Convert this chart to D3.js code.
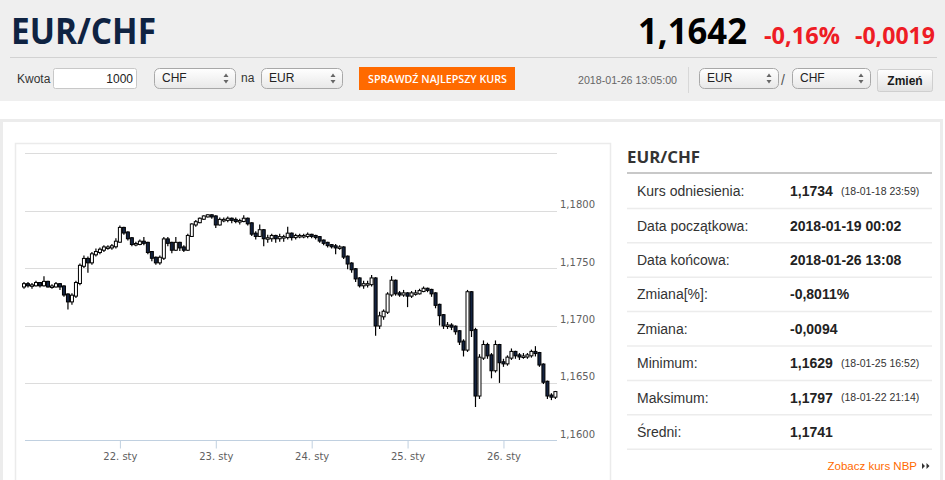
<!DOCTYPE html>
<html lang="pl">
<head>
<meta charset="utf-8">
<style>
html, body {
    margin: 0;
    padding: 0;
    width: 945px;
    height: 480px;
    overflow: hidden;
    background: #fff;
}
svg text {
    font-family: "Liberation Sans", Arial, sans-serif;
}
.grid line {
    stroke: #dcdcdc;
    stroke-width: 1;
}
.tickLabel {
    font-family: "DejaVu Sans", Verdana, sans-serif !important;
    font-size: 10px;
    fill: #606060;
}
</style>
</head>
<body>
<svg id="stage" width="945" height="480"></svg>

<script src="https://cdn.jsdelivr.net/npm/d3@7/dist/d3.min.js"></script>
<script>

// hourly candles, index = trading hour since 2018-01-19 00:00 (weekend skipped)
var opens = [1.1734,1.1736,1.1735,1.1735,1.1737,1.1735,1.1738,1.1734,1.1734,1.1736,
    1.1734,1.1727,1.1721,1.1726,1.1737,1.1752,1.1758,1.1755,1.1762,1.1764,
    1.1766,1.1768,1.1768,1.1769,1.1773,1.1785,1.1781,1.1776,1.1771,1.1771,
    1.1773,1.1772,1.1764,1.1759,1.1755,1.1759,1.1775,1.1772,1.1766,1.1772,
    1.1768,1.1766,1.1778,1.1788,1.1790,1.1793,1.1795,1.1796,1.1795,1.1788,
    1.1792,1.1792,1.1793,1.1792,1.1791,1.1791,1.1793,1.1789,1.1780,1.1778,
    1.1783,1.1776,1.1776,1.1778,1.1776,1.1777,1.1777,1.1780,1.1777,1.1778,
    1.1778,1.1778,1.1779,1.1778,1.1777,1.1774,1.1772,1.1770,1.1769,1.1768,
    1.1768,1.1760,1.1754,1.1749,1.1741,1.1735,1.1736,1.1736,1.1741,1.1700,
    1.1708,1.1712,1.1727,1.1739,1.1728,1.1727,1.1728,1.1726,1.1728,1.1728,
    1.1730,1.1732,1.1731,1.1728,1.1718,1.1709,1.1700,1.1700,1.1699,1.1695,
    1.1686,1.1679,1.1729,1.1696,1.1639,1.1672,1.1683,1.1674,1.1661,1.1683,
    1.1668,1.1667,1.1672,1.1677,1.1674,1.1673,1.1673,1.1674,1.1677,1.1676,
    1.1666,1.1651,1.1639,1.1638];

var highs = [1.1738,1.1738,1.1737,1.1739,1.1738,1.1743,1.1739,1.1736,1.1738,1.1737,
    1.1735,1.1728,1.1728,1.1739,1.1754,1.1761,1.1760,1.1764,1.1767,1.1768,
    1.1770,1.1770,1.1771,1.1776,1.1787,1.1786,1.1782,1.1777,1.1773,1.1775,
    1.1777,1.1773,1.1765,1.1760,1.1761,1.1777,1.1777,1.1773,1.1777,1.1773,
    1.1770,1.1780,1.1789,1.1792,1.1794,1.1796,1.1797,1.1797,1.1796,1.1794,
    1.1794,1.1795,1.1794,1.1794,1.1793,1.1796,1.1794,1.1790,1.1782,1.1788,
    1.1784,1.1779,1.1780,1.1779,1.1780,1.1779,1.1786,1.1781,1.1780,1.1780,
    1.1780,1.1781,1.1780,1.1779,1.1778,1.1775,1.1773,1.1771,1.1771,1.1770,
    1.1769,1.1761,1.1755,1.1750,1.1742,1.1739,1.1739,1.1744,1.1742,1.1712,
    1.1714,1.1729,1.1743,1.1740,1.1730,1.1731,1.1729,1.1730,1.1731,1.1732,
    1.1734,1.1733,1.1732,1.1729,1.1719,1.1710,1.1703,1.1702,1.1700,1.1696,
    1.1688,1.1731,1.1730,1.1698,1.1675,1.1687,1.1685,1.1676,1.1687,1.1684,
    1.1671,1.1674,1.1680,1.1678,1.1676,1.1676,1.1676,1.1679,1.1682,1.1677,
    1.1667,1.1652,1.1641,1.1643];

var lows = [1.1732,1.1733,1.1732,1.1734,1.1733,1.1734,1.1733,1.1732,1.1733,1.1731,
    1.1725,1.1714,1.1718,1.1724,1.1735,1.1750,1.1746,1.1753,1.1760,1.1762,
    1.1764,1.1766,1.1766,1.1767,1.1772,1.1779,1.1774,1.1769,1.1769,1.1770,
    1.1770,1.1762,1.1756,1.1753,1.1753,1.1757,1.1769,1.1763,1.1765,1.1765,
    1.1764,1.1765,1.1777,1.1786,1.1789,1.1792,1.1794,1.1793,1.1785,1.1787,
    1.1790,1.1790,1.1789,1.1789,1.1788,1.1790,1.1787,1.1778,1.1775,1.1777,
    1.1769,1.1772,1.1773,1.1772,1.1773,1.1773,1.1775,1.1774,1.1775,1.1776,
    1.1776,1.1776,1.1776,1.1775,1.1772,1.1770,1.1768,1.1767,1.1762,1.1766,
    1.1758,1.1749,1.1746,1.1738,1.1733,1.1732,1.1733,1.1734,1.1691,1.1697,
    1.1705,1.1710,1.1725,1.1726,1.1725,1.1725,1.1716,1.1724,1.1726,1.1727,
    1.1729,1.1729,1.1725,1.1715,1.1700,1.1697,1.1697,1.1696,1.1692,1.1683,
    1.1673,1.1677,1.1690,1.1629,1.1636,1.1670,1.1671,1.1654,1.1659,1.1650,
    1.1664,1.1665,1.1670,1.1671,1.1670,1.1671,1.1671,1.1672,1.1673,1.1664,
    1.1649,1.1636,1.1635,1.1636];

var closes = [1.1736,1.1735,1.1735,1.1737,1.1735,1.1738,1.1734,1.1734,1.1736,1.1734,
    1.1727,1.1721,1.1726,1.1737,1.1752,1.1758,1.1755,1.1762,1.1764,1.1766,
    1.1768,1.1768,1.1769,1.1773,1.1785,1.1781,1.1776,1.1771,1.1771,1.1773,
    1.1772,1.1764,1.1759,1.1755,1.1759,1.1775,1.1772,1.1766,1.1772,1.1768,
    1.1766,1.1778,1.1788,1.1790,1.1793,1.1795,1.1796,1.1795,1.1788,1.1792,
    1.1792,1.1793,1.1792,1.1791,1.1791,1.1793,1.1789,1.1780,1.1778,1.1783,
    1.1776,1.1776,1.1778,1.1776,1.1777,1.1777,1.1780,1.1777,1.1778,1.1778,
    1.1778,1.1779,1.1778,1.1777,1.1774,1.1772,1.1770,1.1769,1.1768,1.1768,
    1.1760,1.1754,1.1749,1.1741,1.1735,1.1736,1.1736,1.1741,1.1700,1.1708,
    1.1712,1.1727,1.1739,1.1728,1.1727,1.1728,1.1726,1.1728,1.1728,1.1730,
    1.1732,1.1731,1.1728,1.1718,1.1709,1.1700,1.1700,1.1699,1.1695,1.1686,
    1.1679,1.1729,1.1696,1.1639,1.1672,1.1683,1.1674,1.1661,1.1683,1.1668,
    1.1667,1.1672,1.1677,1.1674,1.1673,1.1673,1.1674,1.1677,1.1676,1.1666,
    1.1651,1.1639,1.1638,1.1642];

var dayTicks = [24, 48, 72, 96, 120];
var dayLabels = ["22. sty", "23. sty", "24. sty", "25. sty", "26. sty"];
var priceTicks = [1.1600, 1.1650, 1.1700, 1.1750, 1.1800, 1.1850];

var statLabels = ["Kurs odniesienia:", "Data początkowa:", "Data końcowa:", "Zmiana[%]:",
    "Zmiana:", "Minimum:", "Maksimum:", "Średni:"];
var statValues = ["1,1734", "2018-01-19 00:02", "2018-01-26 13:08", "-0,8011%",
    "-0,0094", "1,1629", "1,1797", "1,1741"];
var statNotes = ["(18-01-18 23:59)", "", "", "", "", "(18-01-25 16:52)", "(18-01-22 21:14)", ""];

var svg = d3.select("#stage");

var defs = svg.append("defs");
var g1 = defs.append("linearGradient").attr("id", "selGrad").attr("x1", 0).attr("y1", 0).attr("x2", 0).attr("y2", 1);
g1.append("stop").attr("offset", "0%").attr("stop-color", "#ffffff");
g1.append("stop").attr("offset", "100%").attr("stop-color", "#e8e8e8");
var g2 = defs.append("linearGradient").attr("id", "btnGrad").attr("x1", 0).attr("y1", 0).attr("x2", 0).attr("y2", 1);
g2.append("stop").attr("offset", "0%").attr("stop-color", "#ffffff");
g2.append("stop").attr("offset", "100%").attr("stop-color", "#e2e2e2");

// ---- header band
svg.append("rect").attr("x", 0).attr("y", 0).attr("width", 945).attr("height", 101).attr("fill", "#efefef");
svg.append("line").attr("x1", 10).attr("x2", 937).attr("y1", 57.5).attr("y2", 57.5)
    .attr("stroke", "#d2d2d2").attr("stroke-width", 1);

svg.append("text").attr("x", 11).attr("y", 43.5)
    .style("font-family", "'Open Sans', sans-serif").style("font-weight", 700).style("font-size", "36px")
    .attr("fill", "#0f2342").attr("textLength", 145).attr("lengthAdjust", "spacingAndGlyphs")
    .text("EUR/CHF");

svg.append("text").attr("x", 638).attr("y", 44)
    .style("font-family", "'Open Sans', sans-serif").style("font-weight", 700).style("font-size", "36px")
    .attr("fill", "#000").attr("textLength", 109).attr("lengthAdjust", "spacingAndGlyphs")
    .text("1,1642");
svg.append("text").attr("x", 764).attr("y", 43.5)
    .style("font-family", "'Open Sans', sans-serif").style("font-weight", 700).style("font-size", "24px")
    .attr("fill", "#ee1c25").attr("textLength", 76).attr("lengthAdjust", "spacingAndGlyphs")
    .text("-0,16%");
svg.append("text").attr("x", 855).attr("y", 43.5)
    .style("font-family", "'Open Sans', sans-serif").style("font-weight", 700).style("font-size", "24px")
    .attr("fill", "#ee1c25").attr("textLength", 80).attr("lengthAdjust", "spacingAndGlyphs")
    .text("-0,0019");

// ---- control row
function label(x, y, txt, size, color, anchor) {
    return svg.append("text").attr("x", x).attr("y", y).attr("dy", "0.35em")
        .attr("text-anchor", anchor || "start")
        .style("font-size", size + "px").attr("fill", color).text(txt);
}

function selectBox(x, w, txt) {
    svg.append("rect").attr("x", x + 0.5).attr("y", 68.5).attr("width", w).attr("height", 20)
        .attr("rx", 5).attr("fill", "url(#selGrad)").attr("stroke", "#a8a8a8");
    label(x + 8, 78, txt, 12, "#222");
    var ax = x + w - 9;
    svg.append("path").attr("d", "M" + (ax - 2.5) + ",77 L" + ax + ",73.5 L" + (ax + 2.5) + ",77 Z").attr("fill", "#666");
    svg.append("path").attr("d", "M" + (ax - 2.5) + ",80 L" + ax + ",83.5 L" + (ax + 2.5) + ",80 Z").attr("fill", "#666");
}

label(17, 79, "Kwota", 12, "#333");
svg.append("rect").attr("x", 53.5).attr("y", 68.5).attr("width", 83).attr("height", 20)
    .attr("rx", 2).attr("fill", "#fff").attr("stroke", "#c8c8c8");
label(133, 79, "1000", 12, "#222", "end");
selectBox(154, 81, "CHF");
label(241, 78, "na", 12, "#333");
selectBox(261, 81, "EUR");

svg.append("rect").attr("x", 359).attr("y", 67).attr("width", 156).attr("height", 23).attr("fill", "#ff6a00");
svg.append("text").attr("x", 368).attr("y", 79).attr("dy", "0.35em")
    .style("font-family", "'Open Sans', sans-serif").style("font-weight", 600).style("font-size", "11px")
    .attr("fill", "#fff").attr("textLength", 139).attr("lengthAdjust", "spacingAndGlyphs")
    .text("SPRAWDŹ NAJLEPSZY KURS");

label(578, 80, "2018-01-26 13:05:00", 11, "#666").attr("textLength", 99).attr("lengthAdjust", "spacingAndGlyphs");
svg.append("line").attr("x1", 688.5).attr("x2", 688.5).attr("y1", 67).attr("y2", 93).attr("stroke", "#d8d8d8");
selectBox(699, 79, "EUR");
label(781, 80, "/", 14, "#555");
selectBox(792, 78, "CHF");
svg.append("rect").attr("x", 877.5).attr("y", 69.5).attr("width", 55).attr("height", 22)
    .attr("rx", 2).attr("fill", "url(#btnGrad)").attr("stroke", "#cfcfcf");
svg.append("text").attr("x", 905).attr("y", 81).attr("dy", "0.35em").attr("text-anchor", "middle")
    .style("font-size", "12px").style("font-weight", 700).attr("fill", "#1a1a1a").text("Zmień");

// ---- content boxes
svg.append("rect").attr("x", 1.5).attr("y", 120.5).attr("width", 940).attr("height", 400)
    .attr("fill", "#fff").attr("stroke", "#ececec").attr("stroke-width", 3);
svg.append("rect").attr("x", 15.5).attr("y", 143.5).attr("width", 595).attr("height", 360)
    .attr("fill", "#fff").attr("stroke", "#ebebeb").attr("stroke-width", 1.5);

// ---- chart
var x = d3.scaleLinear().domain([0, 133.5]).range([24, 557.4]);
var y = d3.scaleLinear().domain([1.16, 1.185]).range([440.3, 153.3]);
var fmt = function (v) { return d3.format(".4f")(v).replace(".", ","); };

var grid = svg.append("g").attr("class", "grid");
grid.selectAll("line").data(priceTicks.slice(1)).enter().append("line")
    .attr("x1", 25).attr("x2", 557)
    .attr("y1", function (d) { return Math.round(y(d)) + 0.5; })
    .attr("y2", function (d) { return Math.round(y(d)) + 0.5; });

svg.selectAll(".yl").data(priceTicks.slice(0, -1)).enter().append("text")
    .attr("class", "tickLabel yl")
    .attr("x", 560).attr("y", function (d) { return y(d) - 6; }).attr("dy", "0.35em")
    .attr("textLength", 35).attr("lengthAdjust", "spacingAndGlyphs")
    .text(fmt);

var xAxis = d3.axisBottom(x).tickValues(dayTicks)
    .tickFormat(function (d, i) { return dayLabels[i]; })
    .tickSize(8).tickPadding(4);
var xg = svg.append("g").attr("transform", "translate(0," + 440.5 + ")").call(xAxis);
xg.select(".domain").attr("d", "M25,0H557").attr("stroke", "#c0d0e0");
xg.selectAll(".tick line").attr("stroke", "#c0d0e0");
xg.selectAll(".tick text").attr("class", "tickLabel").attr("fill", "#606060");

var candles = closes.map(function (c, i) {
    return { i: i, o: opens[i], h: highs[i], l: lows[i], c: c };
});

var bw = 3;
var cg = svg.append("g");
cg.selectAll(".wick").data(candles).enter().append("line")
    .attr("x1", function (d) { return x(d.i); })
    .attr("x2", function (d) { return x(d.i); })
    .attr("y1", function (d) { return y(d.h); })
    .attr("y2", function (d) { return y(d.l); })
    .attr("stroke", "#000").attr("stroke-width", 1.2);
cg.selectAll(".body").data(candles).enter().append("rect")
    .attr("x", function (d) { return x(d.i) - bw / 2; })
    .attr("width", bw)
    .attr("y", function (d) { return y(Math.max(d.o, d.c)) - 0.5; })
    .attr("height", function (d) { return Math.max(1.5, Math.abs(y(d.o) - y(d.c)) + 1); })
    .attr("fill", function (d) { return d.c >= d.o ? "#ffffff" : "#13223f"; })
    .attr("stroke", "#000").attr("stroke-width", 1);

// ---- stats panel
svg.append("text").attr("x", 627).attr("y", 157).attr("dy", "0.35em")
    .style("font-family", "'Open Sans', sans-serif").style("font-weight", 700).style("font-size", "16px")
    .attr("fill", "#333").attr("textLength", 73).attr("lengthAdjust", "spacingAndGlyphs")
    .text("EUR/CHF");
svg.append("line").attr("x1", 627).attr("x2", 932).attr("y1", 173).attr("y2", 173)
    .attr("stroke", "#c8c8c8").attr("stroke-width", 2);

var rowTop = 174, rowH = 34.4;
statLabels.forEach(function (t, i) {
    var cy = rowTop + rowH * i + rowH / 2;
    label(637, cy, t, 14, "#333");
    svg.append("text").attr("x", 790).attr("y", cy).attr("dy", "0.35em")
        .style("font-size", "14px").style("font-weight", 700).attr("fill", "#222").text(statValues[i]);
    if (statNotes[i]) label(841, cy, statNotes[i], 10.5, "#333");
    svg.append("line").attr("x1", 627).attr("x2", 932)
        .attr("y1", rowTop + rowH * (i + 1)).attr("y2", rowTop + rowH * (i + 1))
        .attr("stroke", "#ececec").attr("stroke-width", 1.5);
});

label(917, 466, "Zobacz kurs NBP", 11.5, "#ff6a00", "end");
svg.append("path").attr("d", "M922,463 L925,466 L922,469 Z M926.5,463 L929.5,466 L926.5,469 Z").attr("fill", "#333");

</script>
</body>
</html>
